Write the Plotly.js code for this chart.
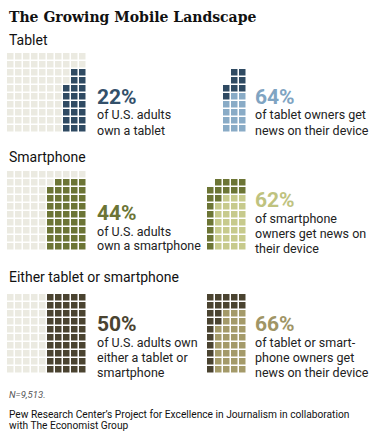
<!DOCTYPE html>
<html>
<head>
<meta charset="utf-8">
<script src="https://cdn.plot.ly/plotly-3.0.1.min.js"></script>
<style>html,body{margin:0;padding:0;background:#fff;}#chart{width:376px;height:431px;}</style>
</head>
<body>
<div id="chart"></div>
<script>
// ---- data ----
const groups = ['Tablet', 'Smartphone', 'Either tablet or smartphone'];
const ownPct = [22, 44, 50];
const newsPct = [64, 62, 66];
const ownText = [['of U.S. adults', 'own a tablet'], ['of U.S. adults', 'own a smartphone'], ['of U.S. adults own', 'either a tablet or', 'smartphone']];
const newsText = [['of tablet owners get', 'news on their device'], ['of smartphone', 'owners get news on', 'their device'], ['of tablet or smart-', 'phone owners get', 'news on their device']];
// filled cells per column (of 10)
const ownColHeights = [
  [0, 0, 0, 0, 0, 0, 0, 6, 8, 8],
  [0, 0, 0, 0, 0, 8, 9, 9, 9, 9],
  [0, 0, 0, 0, 0, 10, 10, 10, 10, 10]
];
// cells (from the bottom) of owners who get news, per column
const newsColHeights = [
  [0, 0, 0, 0, 0, 0, 0, 4, 5, 5],
  [0, 0, 0, 0, 0, 0, 6, 7, 7, 7],
  [0, 0, 0, 0, 0, 0, 6, 8, 8, 8]
];
const note = 'N=9,513.';
const source = ['Pew Research Center\u2019s Project for Excellence in Journalism in collaboration', 'with The Economist Group'];

// ---- styles ----
const W = 376, H = 431;
const emptyColor = '#ebeae1';
const darkColors = ['#2f4a62', '#6c7535', '#4a4330'];
const lightColors = ['#89abc6', '#c7ca8c', '#a49a69'];
const pctDark = ['#33506a', '#6c7535', '#4a4330'];
const pctLight = ['#7fa4c2', '#bfc37f', '#a09565'];
const groupTop = [53, 171, 294];
const pitch = 8, cell = 6.5, rightShift = 20;
const sans = 'Roboto, "Open Sans", sans-serif';

const traces = [];
groups.forEach((g, gi) => {
  const base = (groupTop[gi] + cell / 2) / pitch;
  const ex = [], ey = [], ox = [], oy = [], dx = [], dy = [], lx = [], ly = [];
  for (let c = 0; c < 10; c++) {
    for (let r = 0; r < 10; r++) {
      const filled = r >= 10 - ownColHeights[gi][c];
      if (filled) {
        ox.push(c); oy.push(base + r);
        if (r >= 10 - newsColHeights[gi][c]) { lx.push(c + rightShift); ly.push(base + r); }
        else { dx.push(c + rightShift); dy.push(base + r); }
      } else { ex.push(c); ey.push(base + r); }
    }
  }
  const mk = (x, y, col) => ({type: 'scatter', mode: 'markers', x, y, hoverinfo: 'skip', showlegend: false,
    marker: {symbol: 'square', size: cell, color: col, line: {width: 0}}});
  traces.push(mk(ex, ey, emptyColor), mk(ox, oy, darkColors[gi]), mk(dx, dy, darkColors[gi]), mk(lx, ly, lightColors[gi]));
});

const ann = [];
const A = (x, y, text, font, extra) => ann.push(Object.assign({xref: 'paper', yref: 'paper', x: x / W, y: 1 - y / H,
  xanchor: 'left', yanchor: 'middle', showarrow: false, text, font, align: 'left'}, extra || {}));

A(7, 17, '<b>The Growing Mobile Landscape</b>', {family: '"DejaVu Serif", serif', size: 14, color: '#111'});
const labelY = [40, 157, 277];
const pctY = [97, 213, 324];
const pctY2 = [97, 200, 324];
const lineH = 15;
groups.forEach((g, gi) => {
  A(7, labelY[gi], g, {family: sans, size: 14, color: '#111'});
  A(95, pctY[gi], '<b>' + ownPct[gi] + '%</b>', {family: sans, size: 21, color: pctDark[gi]});
  ownText[gi].forEach((t, i) => A(95, pctY[gi] + 18 + i * lineH, t, {family: sans, size: 12.5, color: '#222'}));
  A(253, pctY2[gi], '<b>' + newsPct[gi] + '%</b>', {family: sans, size: 21, color: pctLight[gi]});
  newsText[gi].forEach((t, i) => A(253, pctY2[gi] + 18 + i * lineH, t, {family: sans, size: 12.5, color: '#222'}));
});
A(7, 394, '<i>' + note + '</i>', {family: sans, size: 9.5, color: '#555'});
source.forEach((t, i) => A(7, 414 + i * 11, t, {family: sans, size: 10.2, color: '#111'}));

const layout = {
  width: W, height: H, margin: {l: 0, r: 0, t: 0, b: 0},
  paper_bgcolor: '#fff', plot_bgcolor: '#fff',
  xaxis: {range: [-(7 + cell / 2) / pitch, (W - 7 - cell / 2) / pitch], visible: false, fixedrange: true},
  yaxis: {range: [H / pitch, 0], visible: false, fixedrange: true},
  annotations: ann, showlegend: false
};
Plotly.newPlot('chart', traces, layout, {staticPlot: true, displayModeBar: false});
</script>
</body>
</html>
